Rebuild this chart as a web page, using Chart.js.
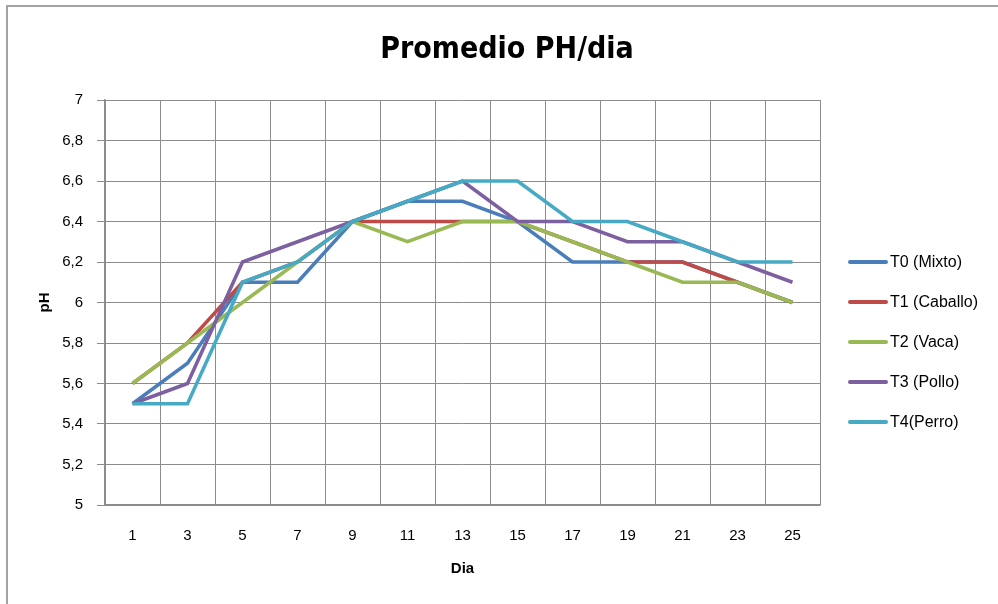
<!DOCTYPE html>
<html>
<head>
<meta charset="utf-8">
<script src="https://cdn.jsdelivr.net/npm/chart.js@4"></script>
<style>
  html, body { margin: 0; padding: 0; background: #fff; overflow: hidden; }
  #frame {
    position: absolute; left: 6px; top: 5px; width: 1100px; height: 700px;
    border-left: 2px solid #a3a3a3; border-top: 2px solid #a3a3a3;
  }
  #wrap { position: absolute; left: 0; top: 0; width: 998px; height: 604px; }
</style>
</head>
<body>
<div id="frame"></div>
<div id="wrap"><canvas id="phChart" width="998" height="604"></canvas></div>
<script>
// dias de medicion
const dias = ["1","3","5","7","9","11","13","15","17","19","21","23","25"];

// promedio de pH por tratamiento
const t0Mixto   = [5.5, 5.7, 6.1, 6.1, 6.4, 6.5, 6.5, 6.4, 6.2, 6.2, 6.2, 6.1, 6.0];
const t1Caballo = [5.6, 5.8, 6.1, 6.2, 6.4, 6.4, 6.4, 6.4, 6.3, 6.2, 6.2, 6.1, 6.0];
const t2Vaca    = [5.6, 5.8, 6.0, 6.2, 6.4, 6.3, 6.4, 6.4, 6.3, 6.2, 6.1, 6.1, 6.0];
const t3Pollo   = [5.5, 5.6, 6.2, 6.3, 6.4, 6.5, 6.6, 6.4, 6.4, 6.3, 6.3, 6.2, 6.1];
const t4Perro   = [5.5, 5.5, 6.1, 6.2, 6.4, 6.5, 6.6, 6.6, 6.4, 6.4, 6.3, 6.2, 6.2];

const yTickLabels = ["5","5,2","5,4","5,6","5,8","6","6,2","6,4","6,6","6,8","7"];

const series = [
  { label: "T0 (Mixto)",   data: t0Mixto,   color: "#4a7ebb" },
  { label: "T1 (Caballo)", data: t1Caballo, color: "#be4b48" },
  { label: "T2 (Vaca)",    data: t2Vaca,    color: "#98b954" },
  { label: "T3 (Pollo)",   data: t3Pollo,   color: "#7d60a0" },
  { label: "T4(Perro)",    data: t4Perro,   color: "#46aac5" }
];

const gridColor = "#8c8c8c";
const txtFont = "'Liberation Sans', Arial, sans-serif";

// leyenda a la derecha, como en Excel
const sideLegend = {
  id: "sideLegend",
  afterDraw(chart) {
    const ctx = chart.ctx;
    ctx.save();
    ctx.font = "16px " + txtFont;
    ctx.textBaseline = "middle";
    ctx.textAlign = "left";
    ctx.lineCap = "round";
    chart.data.datasets.forEach((ds, i) => {
      const y = 262 + i * 40;
      ctx.strokeStyle = ds.borderColor;
      ctx.lineWidth = 4;
      ctx.beginPath();
      ctx.moveTo(850, y);
      ctx.lineTo(886, y);
      ctx.stroke();
      ctx.fillStyle = "#000";
      ctx.fillText(ds.label, 890, y + 1);
    });
    ctx.restore();
  }
};

new Chart(document.getElementById("phChart"), {
  type: "line",
  data: {
    labels: dias,
    datasets: series.map((s, i) => ({
      label: s.label,
      data: s.data,
      borderColor: s.color,
      backgroundColor: s.color,
      borderWidth: 3.5,
      pointRadius: 0,
      tension: 0,
      fill: false,
      order: series.length - i
    }))
  },
  options: {
    responsive: false,
    animation: false,
    layout: { padding: { left: 16, right: 0, top: 0, bottom: 0 } },
    plugins: {
      legend: { display: false },
      tooltip: { enabled: false },
      title: {
        display: true,
        text: "Promedio PH/dia",
        color: "#000",
        font: { family: "'Liberation Sans Narrow', 'DejaVu Sans Condensed', sans-serif", size: 30, weight: "bold", lineHeight: 1.2 },
        padding: { top: 32, bottom: 32 }
      }
    },
    scales: {
      x: {
        offset: true,
        grid: { color: gridColor, offset: true, drawTicks: false, tickLength: 0 },
        border: { color: gridColor, width: 1.5 },
        ticks: { color: "#000", padding: 22, font: { family: txtFont, size: 15 }, maxRotation: 0 },
        title: { display: true, text: "Dia", color: "#000", font: { family: txtFont, size: 15, weight: "bold" }, padding: { top: 0, bottom: 26 } },
        afterFit(scale) { scale.height = 99; }
      },
      y: {
        min: 5,
        max: 7,
        grid: { color: gridColor, tickLength: 8 },
        border: { color: gridColor, width: 1.5 },
        ticks: {
          stepSize: 0.2,
          color: "#000",
          padding: 14,
          font: { family: txtFont, size: 15 },
          callback: (v, i) => yTickLabels[i]
        },
        title: { display: true, text: "pH", color: "#000", font: { family: txtFont, size: 15, weight: "bold" }, padding: { top: 20, bottom: 0 } },
        afterFit(scale) { scale.width = 89; }
      },
      // espacio reservado para la leyenda
      legendSpace: {
        type: "linear",
        position: "right",
        display: true,
        grid: { drawOnChartArea: false, drawTicks: false },
        border: { display: false },
        ticks: { display: false },
        afterFit(scale) { scale.width = 178; }
      }
    }
  },
  plugins: [sideLegend]
});
</script>
</body>
</html>
